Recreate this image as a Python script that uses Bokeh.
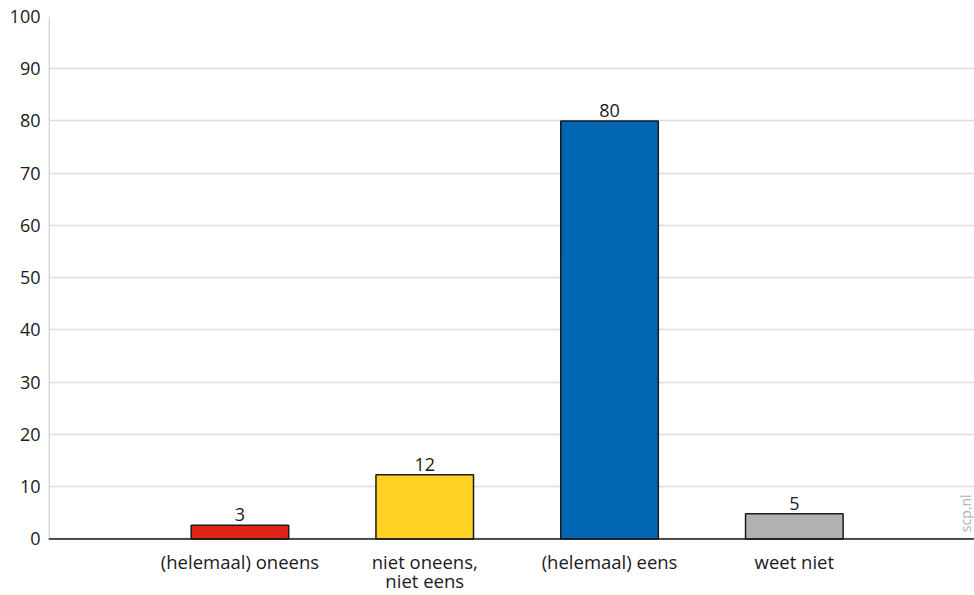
from bokeh.plotting import figure
from bokeh.models import FixedTicker, Range1d, Label, ColumnDataSource
from bokeh.core.properties import value
from bokeh.embed import file_html
from bokeh.resources import INLINE
import math

categories = ["(helemaal) oneens", "niet oneens,\nniet eens", "(helemaal) eens", "weet niet"]
positions = [1, 2, 3, 4]
values = [2.6, 12.3, 80.0, 4.8]
value_labels = ["3", "12", "80", "5"]
colors = ["#e2231a", "#ffd124", "#0066b3", "#b2b2b2"]
y_ticks = [0, 10, 20, 30, 40, 50, 60, 70, 80, 90, 100]

FONT = "Open Sans"
TXT = "#1a1a1a"
X0, X1 = -0.036, 4.975
Y0, Y1 = -10.83, 100

p = figure(width=974, height=595, output_backend="svg", toolbar_location=None,
           x_range=Range1d(X0, X1), y_range=Range1d(Y0, Y1),
           min_border_left=48, min_border_right=0, min_border_top=16, min_border_bottom=0)
p.outline_line_color = None
p.background_fill_color = "white"
p.border_fill_color = "white"

p.xgrid.grid_line_color = None
p.ygrid.ticker = FixedTicker(ticks=y_ticks)
p.ygrid.grid_line_color = "#dcdcdc"
p.ygrid.grid_line_width = 1.5

# light grey y-axis line from 0 to 100
p.segment(x0=[X0], y0=[0], x1=[X0], y1=[100], line_color="#d9d9d9", line_width=3)

src = ColumnDataSource(dict(x=positions, top=values, color=colors, lab=value_labels))
p.vbar(x="x", top="top", width=0.528, bottom=0, fill_color="color",
       line_color="#1a1a1a", line_width=1.5, source=src)
p.text(x="x", y="top", text="lab", source=src, text_align="center", text_baseline="bottom",
       y_offset=-4, text_font=value(FONT), text_font_size="18px", text_color=TXT)

# black baseline
p.segment(x0=[X0], y0=[0], x1=[X1], y1=[0], line_color="#1a1a1a", line_width=1.5)

# category labels
lx, ly, lt, loff = [], [], [], []
for pos, cat in zip(positions, categories):
    for i, line in enumerate(cat.split("\n")):
        lx.append(pos)
        ly.append(0)
        lt.append(line)
        loff.append(23 + 19 * i)
p.text(x=lx, y=ly, text=lt, y_offset=loff, text_align="center", text_baseline="middle",
       text_font=value(FONT), text_font_size="18.5px", text_color=TXT)

# y axis
p.yaxis.ticker = FixedTicker(ticks=y_ticks)
p.yaxis.axis_line_color = None
p.yaxis.major_tick_line_color = None
p.yaxis.minor_tick_line_color = None
p.yaxis.major_tick_out = 0
p.yaxis.major_tick_in = 0
p.yaxis.major_label_standoff = 8
p.yaxis.major_label_text_font = FONT
p.yaxis.major_label_text_font_size = "18px"
p.yaxis.major_label_text_color = TXT
p.xaxis.visible = False

p.add_layout(Label(x=4.975, y=1.3, text="scp.nl", angle=math.pi / 2,
                   text_align="left", text_baseline="bottom",
                   text_font=FONT, text_font_size="14px", text_color="#b0b0b0"))

open("out.html", "w").write(file_html(p, INLINE))
